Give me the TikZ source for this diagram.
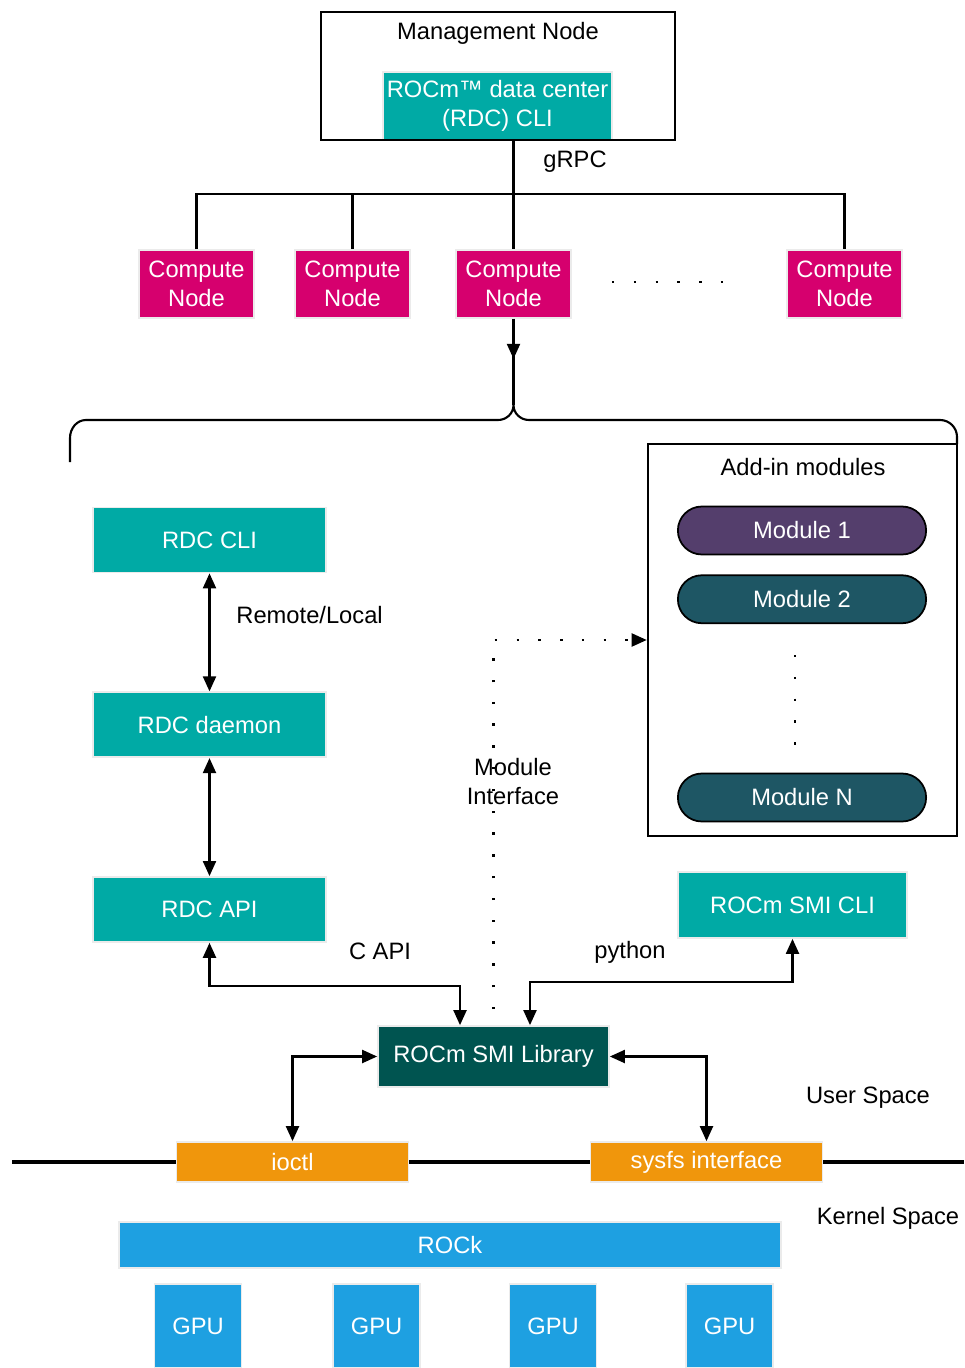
\documentclass[tikz,border=0pt]{standalone}
\usepackage{fontspec}
\setmainfont{Liberation Sans}
\usetikzlibrary{arrows.meta,shapes.misc,positioning}

\definecolor{rdcteal}{RGB}{0,170,165}
\definecolor{cnode}{RGB}{214,0,110}
\definecolor{modpurple}{RGB}{84,62,108}
\definecolor{modteal}{RGB}{30,86,100}
\definecolor{smilib}{RGB}{0,84,80}
\definecolor{ifaceorange}{RGB}{240,150,12}
\definecolor{rockblue}{RGB}{30,160,225}

\begin{document}
\begin{tikzpicture}[x=0.02cm,y=-0.02cm,>={Triangle[length=3mm,width=2.6mm]},
  line width=1.2pt,every node/.style={font=\fontsize{13.5}{16.5}\selectfont},
  box/.style={rectangle,draw=black!8,line width=1pt,text=white,align=center,inner sep=0pt},
  teal box/.style={box,fill=rdcteal,minimum width=4.66cm,minimum height=1.3cm},
  compute node/.style={box,fill=cnode,minimum width=2.3cm,minimum height=1.36cm},
  module/.style={rounded rectangle,draw=black,line width=1pt,text=white,minimum width=5.2cm,minimum height=0.96cm},
  iface/.style={box,fill=ifaceorange,minimum width=4.64cm,minimum height=0.8cm},
  gpu/.style={box,fill=rockblue,minimum width=1.74cm,minimum height=1.68cm},
  frame/.style={draw=black,line width=1.5pt,inner sep=0pt},
  dots/.style={dash pattern=on 1.4pt off 11pt}]

\useasboundingbox (0,0) rectangle (964,1368);

\node[teal box,minimum width=4.58cm,minimum height=1.36cm] (rdcmgmt) at (497.5,106) {ROCm™ data center\\(RDC) CLI};
\node[frame,minimum width=7.08cm,minimum height=2.56cm] (mgmt) at (498,76) {};
\node (mgmttitle) at (498,33) {Management Node};

\node[compute node] (cn1) at (196.5,284) {Compute\\Node};
\node[compute node] (cn2) at (352.5,284) {Compute\\Node};
\node[compute node] (cn3) at (513.5,284) {Compute\\Node};
\node[compute node] (cn4) at (844.5,284) {Compute\\Node};
\draw[dots] (612,282) -- (728,282);
\node at (575,162) {gRPC};

\draw (cn3.north |- mgmt.south) -- (cn3.north);
\draw (cn1.north) -- ++(0,-55) -| (cn4.north);
\draw (cn2.north) -- ++(0,-55);

\coordinate (tip) at (513.5,405);
\draw (cn3.south) -- (tip);
\draw[->] (cn3.south) -- ++(0,40);
\draw (70,462) -- (70,438) to[out=90,in=180] (86,420) -- (498,420) to[out=0,in=-90] (tip)
  to[out=-90,in=180] (529,420) -- (940,420) to[out=0,in=90] (957,437) -- (957,444);

\node[teal box] (rdccli) at (209.5,540) {RDC CLI};
\node[teal box,below=2.36cm of rdccli] (daemon) {RDC daemon};
\node[teal box,below=2.36cm of daemon] (rdcapi) {RDC API};

\node[frame,minimum width=6.18cm,minimum height=7.84cm] (addin) at (802.5,640) {};
\node (addtitle) at (803,467) {Add-in modules};
\node[module,fill=modpurple] (m1) at (802,530.5) {Module 1};
\node[module,fill=modteal,below=0.38cm of m1] (m2) {Module 2};
\node[module,fill=modteal] (mN) at (802,797.5) {Module N};
\draw[dots] (795,655) -- (795,748);

\node[teal box,minimum width=4.58cm,minimum height=1.32cm] (smicli) at (792.5,905) {ROCm SMI CLI};
\node[box,fill=smilib,minimum width=4.62cm,minimum height=1.22cm] (smilib) at (493.5,1056.5) {ROCm SMI Library};
\node[iface] (ioctl) at (292.5,1162) {ioctl};
\node[iface] (sysfs) at (706.5,1162) {sysfs interface};

\draw[<->] (rdccli.south) -- (daemon.north) node[pos=0.35,right=0.4cm] {Remote/Local};
\draw[<->] (daemon.south) -- (rdcapi.north);
\draw[<->] (rdcapi.south) -- ++(0,43) -| ([xshift=-0.67cm]smilib.north);
\draw[<->] (smicli.south) -- ++(0,43) -| ([xshift=0.73cm]smilib.north);
\node at (380,951) {C API};
\node at (630,952) {python};
\draw[->,dots] ([yshift=0.32cm]smilib.north) |- (addin.west);
\node[align=center] (modif) at (513,782) {Module\\Interface};

\draw[<->] (smilib.west) -| (ioctl.north);
\draw[<->] (smilib.east) -| (sysfs.north);
\draw[line width=1.8pt] (12,1162) -- (ioctl.west) (ioctl.east) -- (sysfs.west) (sysfs.east) -- (964,1162);
\node at (868,1098) {User Space};
\node at (888,1218) {Kernel Space};

\node[box,fill=rockblue,minimum width=13.24cm,minimum height=0.92cm] (rock) at (450,1245) {ROCk};
\node[gpu] (gpu1) at (198,1326) {GPU};
\node[gpu] (gpu2) at (376.5,1326) {GPU};
\node[gpu] (gpu3) at (553,1326) {GPU};
\node[gpu] (gpu4) at (729.5,1326) {GPU};
\end{tikzpicture}
\end{document}
